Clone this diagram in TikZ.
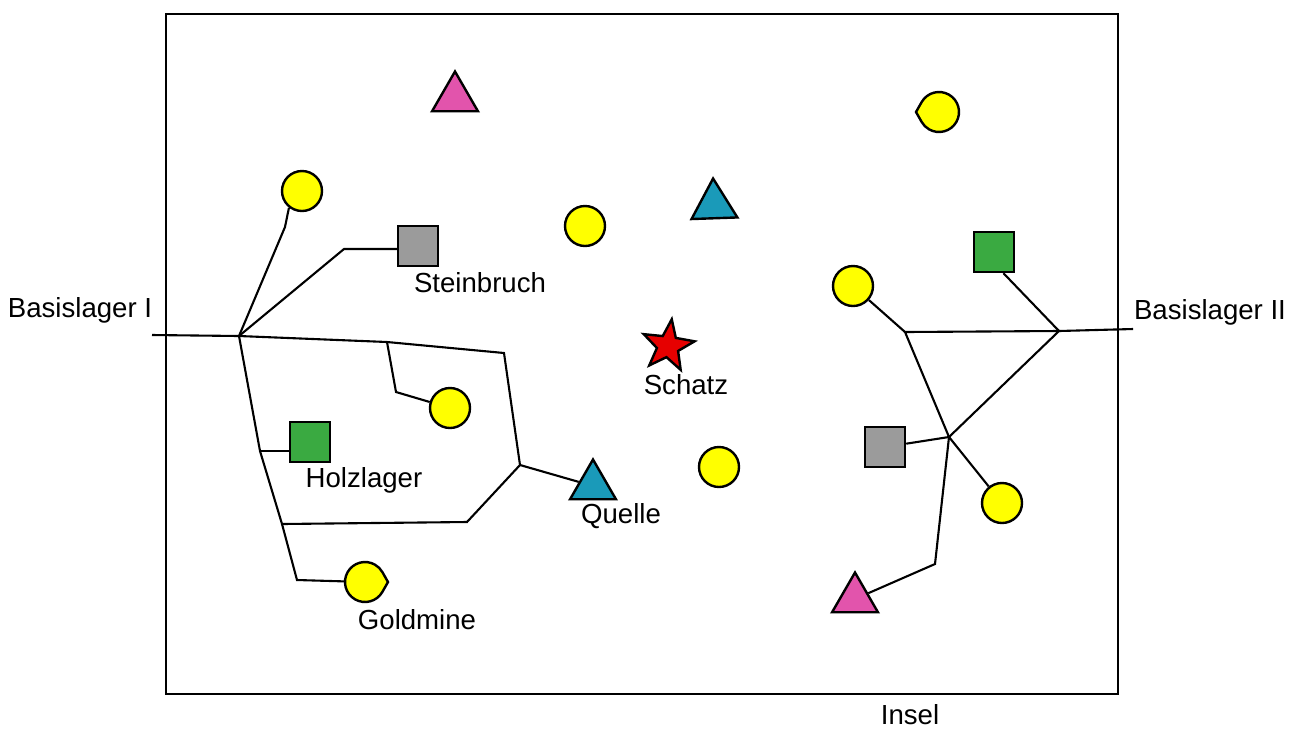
\documentclass[tikz,border=0pt]{standalone}
\usepackage{fontspec}
\setmainfont{Liberation Sans}
\usetikzlibrary{shapes.geometric}

\definecolor{goldfill}{HTML}{FFFF00}
\definecolor{stone}{HTML}{9B9B9B}
\definecolor{wood}{HTML}{3AAA41}
\definecolor{rose}{HTML}{E254AC}
\definecolor{spring}{HTML}{1A9AB9}
\definecolor{treasure}{HTML}{E60000}

\begin{document}
\begin{tikzpicture}[x=0.5pt,y=-0.5pt,
  road/.style={line width=1.05pt, line join=miter},
  site/.style={draw=black, line width=1.2pt, inner sep=0pt},
  well/.style={site, circle, minimum size=20pt, fill=goldfill},
  block/.style={site, rectangle, minimum size=20pt},
  peak/.style={site, regular polygon, regular polygon sides=3, minimum size=26.5pt},
  corecirc/.style={circle, minimum size=20pt, inner sep=0pt},
  dropshape/.style={draw=black, line width=1.2pt, fill=goldfill, line join=miter},
  lbl/.style={font=\fontsize{13.8}{16}\selectfont, inner sep=0pt, anchor=base},
]
\useasboundingbox (0,0) rectangle (1299,729);

% island outline
\draw[line width=1.3pt] (166,14) rectangle (1118,694);

% places on the island
\node[well] (w1) at (302,191) {};
\node[block, fill=stone] (stein) at (418,246) {};
\node[well] (w2) at (450,408) {};
\node[block, fill=wood] (holz) at (310,442) {};
\node[peak, fill=spring] (quelle) at (593,486) {};
\node[corecirc] (gold) at (365,582) {};
\node[peak, fill=rose] (t1) at (455,98) {};
\node[well] (w3) at (585,226) {};
\node[peak, fill=spring, shape border rotate=2] (t2) at (714,205) {};
\node[site, star, star points=5, star point ratio=2.4, minimum size=27pt,
      fill=treasure, shape border rotate=-8] (schatz) at (668,346) {};
\node[well] (w4) at (719,467) {};
\node[corecirc] (d2) at (939,112) {};
\node[well] (w5) at (853,286) {};
\node[block, fill=wood] (sqG) at (994,252) {};
\node[block, fill=stone] (sqR) at (885,447) {};
\node[well] (w6) at (1002,503) {};
\node[peak, fill=rose] (t3) at (855,599) {};

% drop-shaped gold spots
\draw[dropshape, shift={(gold)}] (0:23) -- (30:20) arc[start angle=30, end angle=330, radius=20] -- cycle;
\draw[dropshape, shift={(d2)}] (180:23) -- (210:20) arc[start angle=210, end angle=510, radius=20] -- cycle;

% junctions of the western road network
\coordinate (bl1) at (152,335);
\coordinate (jA) at (239,336);
\coordinate (a1) at (285,227);
\coordinate (a2) at (344,249);
\coordinate (jB) at (387,342);
\coordinate (jC) at (504,353);
\coordinate (jD) at (520,465);
\coordinate (b1) at (396,392);
\coordinate (jE) at (260,451);
\coordinate (jF) at (282,524);
\coordinate (jG) at (297,580);
\coordinate (jH) at (467,522);

% junctions of the eastern road network
\coordinate (bl2) at (1133,329);
\coordinate (jP) at (1059,331);
\coordinate (jQ) at (905,332);
\coordinate (jR) at (949,437);
\coordinate (jS) at (935,564);

% western roads
\draw[road] (bl1) -- (jA) -- (jB) -- (jC) -- (jD) -- (jH) -- (jF);
\draw[road] (jA) -- (a1) -- (w1.232);
\draw[road] (jA) -- (a2) -- (a2 -| stein.west);
\draw[road] (jB) -- (b1) -- (w2);
\draw[road] (jD) -- (quelle);
\draw[road] (jA) -- (jE) -- (jF) -- (jG) -- (gold);
\draw[road] (jE) -- (jE -| holz.west);

% eastern roads
\draw[road] (bl2) -- (jP) -- (jQ) -- (jR) -- (w6);
\draw[road] (jQ) -- (w5);
\draw[road] (jP) -- (sqG.-66);
\draw[road] (jP) -- (jR) -- (sqR);
\draw[road] (jR) -- (jS) -- (t3);

% labels
\node[lbl] (lstein) at (480,292) {Steinbruch};
\node[lbl] (lholz) at (364,487) {Holzlager};
\node[lbl] (lquelle) at (621,523) {Quelle};
\node[lbl] (lgold) at (417,629) {Goldmine};
\node[lbl] (lschatz) at (686,394) {Schatz};
\node[lbl] (lbl1) at (80,317) {Basislager I};
\node[lbl] (lbl2) at (1210,319) {Basislager II};
\node[lbl] (linsel) at (910,724) {Insel};
\end{tikzpicture}
\end{document}
